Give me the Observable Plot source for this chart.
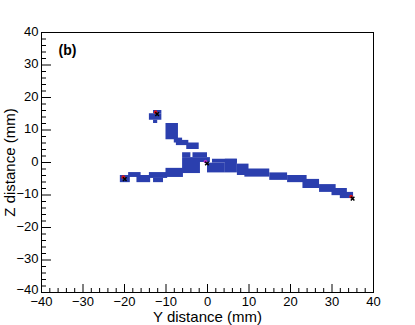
<!DOCTYPE html>
<html><head><meta charset="utf-8">
<script src="https://cdn.jsdelivr.net/npm/d3@7"></script>
<script src="https://cdn.jsdelivr.net/npm/@observablehq/plot@0.6"></script>
<style>html,body{margin:0;padding:0;background:#fff;} svg{display:block;}</style>
</head><body><div id="chart"></div>
<script>
// Occupied cells of the 2D histogram (Y distance = horizontal, Z distance = vertical), in mm
const cellYStart = [-14, -13, -13, -10, -8, -7.5, -5, -6, -3.5, -6, -6, 0, 1.2, 4.3, 7.2, 9, 15, 19.3, 23, 27, 30, 32, -21, -19, -17, -14, -13, -10];
const cellYEnd   = [-11, -11, -12, -7, -6, -4.5, -2, -4, 0, 0.7, -1.7, 4.3, 7.2, 7.2, 10, 15, 19.3, 24, 27, 31, 33.7, 35.2, -18.6, -16, -13.7, -9.6, -10.6, -5.8];
const cellZStart = [13, 15, 12, 7, 6, 5.2, 4, 1.5, 1.5, 0, -3.4, -3.2, -0.2, -3.2, -4, -4.5, -5.5, -6.2, -8, -9.2, -10.2, -11.1, -6.2, -4.6, -6.2, -4.9, -6.2, -4.6];
const cellZEnd   = [15, 16, 13, 12, 7.5, 6.8, 6, 3, 3, 1.5, 0, -0.2, 1, 1, -0.5, -2, -3.2, -4, -5.2, -6.8, -8, -9.2, -4, -3.1, -4, -3.1, -4.9, -1.8];

// Marked points
const markerY = [-20.3, -12.5, -0.5, 34.6];
const markerZ = [-4.5, 15.5, 0.3, -10.5];
const markerKind = ["end", "end", "vertex", "end"];

// Axis ticks
const majorTicks = [-40, -30, -20, -10, 0, 10, 20, 30, 40];
const minorTicks = [-38, -36, -34, -32, -28, -26, -24, -22, -18, -16, -14, -12, -8, -6, -4, -2, 2, 4, 6, 8, 12, 14, 16, 18, 22, 24, 26, 28, 32, 34, 36, 38];

const cells = cellYStart.map((d, i) => ({y1: d, y2: cellYEnd[i], z1: cellZStart[i], z2: cellZEnd[i]}));
const markers = markerY.map((d, i) => ({y: d, z: markerZ[i], kind: markerKind[i]}));

const fmt = d => d < 0 ? "\u2212" + Math.abs(d) : String(d);
const W = 415, H = 325, ML = 41, MR = 42, MT = 32, MB = 33;
const FW = W - ML - MR, FH = H - MT - MB;

const chart = Plot.plot({
  width: W, height: H,
  marginLeft: ML, marginRight: MR, marginTop: MT, marginBottom: MB,
  x: {domain: [-40, 40]},
  y: {domain: [-40, 40]},
  style: {fontFamily: "'Liberation Sans', Arial, Helvetica, sans-serif", background: "white", color: "black"},
  marks: [
    Plot.rect(cells, {x1: "y1", x2: "y2", y1: "z1", y2: "z2", fill: "#2b3fae"}),
    Plot.dot(markers, {x: "y", y: "z", r: 1.8, fill: d => d.kind === "vertex" ? "#b02cc8" : "#e01010", stroke: null}),
    Plot.dot(markers, {x: "y", y: "z", r: 1.8, symbol: "times", stroke: "black", strokeWidth: 1.5, dx: 1.5, dy: 2}),
    Plot.frame({stroke: "black", strokeWidth: 1}),
    Plot.tickY(majorTicks, {y: d => d, insetRight: FW - 10, stroke: "black"}),
    Plot.tickY(minorTicks, {y: d => d, insetRight: FW - 5, stroke: "black"}),
    Plot.tickX(majorTicks, {x: d => d, insetTop: FH - 8, stroke: "black"}),
    Plot.tickX(minorTicks, {x: d => d, insetTop: FH - 4, stroke: "black"}),
    Plot.axisY(majorTicks.slice(1), {anchor: "left", tickSize: 0, tickPadding: 3, tickFormat: fmt, fontSize: 13, label: null, dy: -1}),
    Plot.axisY(majorTicks.slice(0, 1), {anchor: "left", tickSize: 0, tickPadding: 3, tickFormat: fmt, fontSize: 13, label: null, dy: -3}),
    Plot.axisX(majorTicks, {anchor: "bottom", tickSize: 0, tickPadding: 4, tickFormat: fmt, fontSize: 13, label: null}),
    Plot.text(["Y distance (mm)"], {frameAnchor: "bottom", dy: 29, fontSize: 15, textAnchor: "middle"}),
    Plot.text(["Z distance (mm)"], {frameAnchor: "left", dx: -31, rotate: -90, fontSize: 15, textAnchor: "middle"}),
    Plot.text(["(b)"], {frameAnchor: "top-left", dx: 17, dy: 13, fontSize: 14, fontWeight: "bold", textAnchor: "start"})
  ]
});
document.getElementById("chart").appendChild(chart);
</script>
</body></html>
